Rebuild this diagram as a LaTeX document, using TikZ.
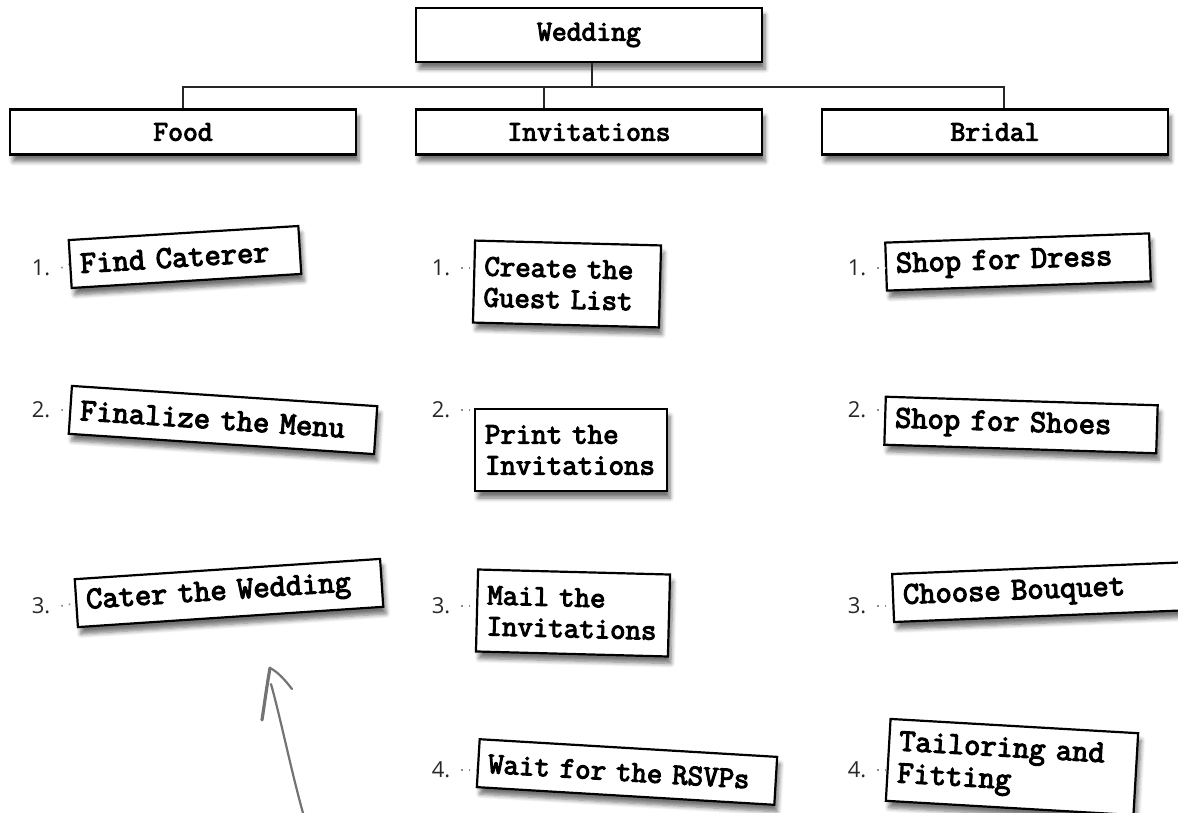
\documentclass[tikz,border=0pt]{standalone}
\usepackage{fontspec}
\setmainfont{Open Sans}
\setmonofont{Latin Modern Mono}[AutoFakeBold=3.6]
\usetikzlibrary{shadows.blur}

\begin{document}
\begin{tikzpicture}[x=0.5pt, y=-0.5pt,
  card/.style={rectangle, draw=black, line width=1.1pt, fill=white,
    font=\ttfamily\bfseries\fontsize{14.4}{15.5}\selectfont,
    blur shadow={shadow xshift=1.5pt, shadow yshift=-3.5pt,
      shadow blur steps=6, shadow opacity=55}},
  head/.style={card, minimum width=173pt, minimum height=22.5pt, inner sep=0pt},
  task/.style={card, align=left, inner xsep=5pt, inner ysep=3pt},
  single/.style={task, minimum height=24pt},
  double/.style={task, minimum height=41pt},
  big/.style={font=\ttfamily\bfseries\fontsize{15.8}{16}\selectfont},
  mid/.style={font=\ttfamily\bfseries\fontsize{15}{15.5}\selectfont},
  num/.style={font=\fontsize{11}{13}\selectfont, text=black!85},
  lead/.style={black!45, line width=0.8pt, dash pattern=on 0.8pt off 3pt},
  tree/.style={black!85, line width=0.8pt},
  pen/.style={black!55, line width=1.1pt, line cap=round, line join=round},
]
\useasboundingbox (0,0) rectangle (1178,813);
% ====== TREE ======
\node[head, minimum height=27pt] (wedding) at (589,35) {Wedding};
\node[head] (food) at (183,132) {Food};
\node[head] (inv) at (589,132) {Invitations};
\node[head] (bridal) at (995,132) {Bridal};
\coordinate (bus_l) at (183,87);
\coordinate (bus_i) at (544,87);
\coordinate (bus_m) at (592,87);
\coordinate (bus_r) at (1004,87);
\draw[tree] (wedding.south -| bus_m) -- (bus_m);
\draw[tree] (food.north) -- (bus_l) -- (bus_r) -- (bus_r |- bridal.north);
\draw[tree] (bus_i) -- (bus_i |- inv.north);
%
% ====== FOOD ======
\node[single, big, rotate=3.5, text width=105pt] (f1) at (185,257) {Find Caterer};
\node[single, big, rotate=-3.8, text width=143pt] (f2) at (223,420) {Finalize the Menu};
\node[single, big, rotate=3.8, text width=143pt] (f3) at (229,593) {Cater the Wedding};
\node[num] (f1_num) at (41,268) {1.};
\node[num] (f2_num) at (41,410) {2.};
\node[num] (f3_num) at (41,606) {3.};
\draw[lead] (f1_num.east) ++(2pt,0) -- (f1.west);
\draw[lead] (f2_num.east) ++(2pt,0) -- (f2.west);
\draw[lead] (f3_num.east) ++(2pt,0) -- (f3.west);
%
% ====== INVITATIONS ======
\node[double, mid, rotate=-1.5, text width=83pt] (i1) at (567,284) {Create the\\Guest List};
\node[double, mid, rotate=0, text width=86pt] (i2) at (571,450) {Print the\\Invitations};
\node[double, mid, rotate=-1.5, text width=86pt] (i3) at (573,613) {Mail the\\Invitations};
\node[single, mid, rotate=-3.4, text width=139pt] (i4) at (627,772) {Wait for the RSVPs};
\node[num] (i1_num) at (441,268) {1.};
\node[num] (i2_num) at (441,410) {2.};
\node[num] (i3_num) at (441,606) {3.};
\node[num] (i4_num) at (441,770) {4.};
\draw[lead] (i1_num.east) ++(2pt,0) -- (i1.west |- i1_num);
\draw[lead] (i2_num.east) ++(2pt,0) -- (i2.west |- i2_num);
\draw[lead] (i3_num.east) ++(2pt,0) -- (i3.west |- i3_num);
\draw[lead] (i4_num.east) ++(2pt,0) -- (i4.west |- i4_num);
%
% ====== BRIDAL ======
\node[single, big, rotate=2, text width=122pt] (b1) at (1018,262) {Shop for Dress};
\node[single, big, rotate=-1.8, text width=126pt] (b2) at (1021,425) {Shop for Shoes};
\node[single, big, rotate=2.3, text width=140pt] (b3) at (1043,592) {Choose Bouquet};
\node[double, big, rotate=-3.3, text width=114pt] (b4) at (1012,767) {Tailoring and\\Fitting};
\node[num] (b1_num) at (857,268) {1.};
\node[num] (b2_num) at (857,410) {2.};
\node[num] (b3_num) at (857,606) {3.};
\node[num] (b4_num) at (857,770) {4.};
\draw[lead] (b1_num.east) ++(2pt,0) -- (b1.west |- b1_num);
\draw[lead] (b2_num.east) ++(2pt,0) -- (b2.west |- b2_num);
\draw[lead] (b3_num.east) ++(2pt,0) -- (b3.west |- b3_num);
\draw[lead] (b4_num.east) ++(2pt,0) -- (b4.west |- b4_num);
%
% ====== SKETCHED ARROW ======
\draw[pen, line width=1.6pt] (262,720) .. controls (265,700) and (267,685) .. (270,668);
\draw[pen] (270,668) .. controls (278,672) and (285,680) .. (292,689);
\draw[pen] (271,684) .. controls (281,720) and (291,770) .. (303,813);
\end{tikzpicture}
\end{document}
